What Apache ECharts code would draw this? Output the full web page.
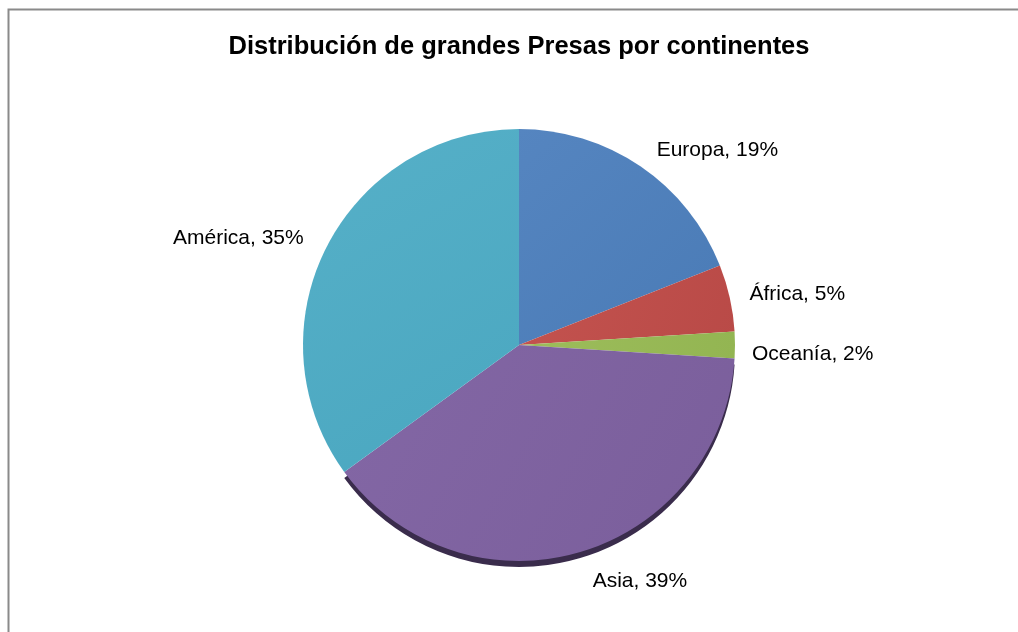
<!DOCTYPE html>
<html>
<head>
<meta charset="utf-8">
<title>Distribución de grandes Presas por continentes</title>
<script src="https://cdn.jsdelivr.net/npm/echarts@6/dist/echarts.min.js"></script>
<style>
  html, body { margin: 0; padding: 0; background: #ffffff; }
  #chart { width: 1018px; height: 632px; }
</style>
</head>
<body>
<div id="chart"></div>
<script>
// Share of large dams by continent (percent), clockwise from 12 o'clock
const continents = ['Europa', 'África', 'Oceanía', 'Asia', 'América'];
const shares = [19, 5, 2, 39, 35];
const sliceColors = [
  ['#5585c0', '#4a7bb6'],
  ['#c4534f', '#b94a47'],
  ['#9dbd5b', '#93b552'],
  ['#8367a5', '#7a5e9b'],
  ['#56b0c8', '#4aa7c0']
];
// distance of each label from the rim
const labelGaps = [20, 15, 12, 30, 20];
const edgeColor = '#3a2c4c';

const chart = echarts.init(document.getElementById('chart'), null, { renderer: 'canvas' });

const center = [519, 345];
const radius = 216;

function grad(c) {
  return new echarts.graphic.LinearGradient(0, 0, 1, 1, [
    { offset: 0, color: c[0] },
    { offset: 1, color: c[1] }
  ]);
}

// Slice data for the pie itself
const pieData = continents.map((name, i) => ({
  name: name,
  value: shares[i],
  itemStyle: { color: grad(sliceColors[i]) },
  labelLine: { length: labelGaps[i], length2: 0 }
}));

// Dark rim under the Asia slice, drawn as a slightly lowered copy of the pie
const rimData = continents.map((name, i) => ({
  name: name,
  value: shares[i],
  itemStyle: { color: name === 'Asia' ? edgeColor : 'rgba(0,0,0,0)' }
}));

chart.setOption({
  animation: false,
  backgroundColor: '#ffffff',
  title: {
    text: 'Distribución de grandes Presas por continentes',
    left: 519,
    textAlign: 'center',
    top: 34,
    padding: 0,
    textStyle: {
      fontFamily: 'Liberation Sans, Arial, sans-serif',
      fontSize: 25.5,
      fontWeight: 'bold',
      color: '#000000'
    }
  },
  graphic: [{
    type: 'rect',
    shape: { x: 8.5, y: 9.5, width: 1030, height: 650 },
    style: { fill: 'none', stroke: '#8a8a8a', lineWidth: 2 },
    silent: true,
    z: 10
  }],
  series: [
    {
      type: 'pie',
      center: [center[0], center[1] + 6],
      radius: radius,
      startAngle: 90,
      clockwise: true,
      silent: true,
      label: { show: false },
      labelLine: { show: false },
      data: rimData,
      z: 1
    },
    {
      type: 'pie',
      center: center,
      radius: radius,
      startAngle: 90,
      clockwise: true,
      avoidLabelOverlap: false,
      itemStyle: { borderWidth: 0 },
      label: {
        show: true,
        position: 'outside',
        formatter: '{b}, {d}%',
        fontFamily: 'Liberation Sans, Arial, sans-serif',
        fontSize: 21,
        color: '#000000'
      },
      labelLine: { show: false, length: 20, length2: 0 },
      labelLayout: function (params) {
        // the small Oceanía label sits a little below the slice's middle
        return params.dataIndex === 2 ? { dy: 9 } : {};
      },
      data: pieData,
      z: 2
    }
  ]
});
</script>
</body>
</html>
